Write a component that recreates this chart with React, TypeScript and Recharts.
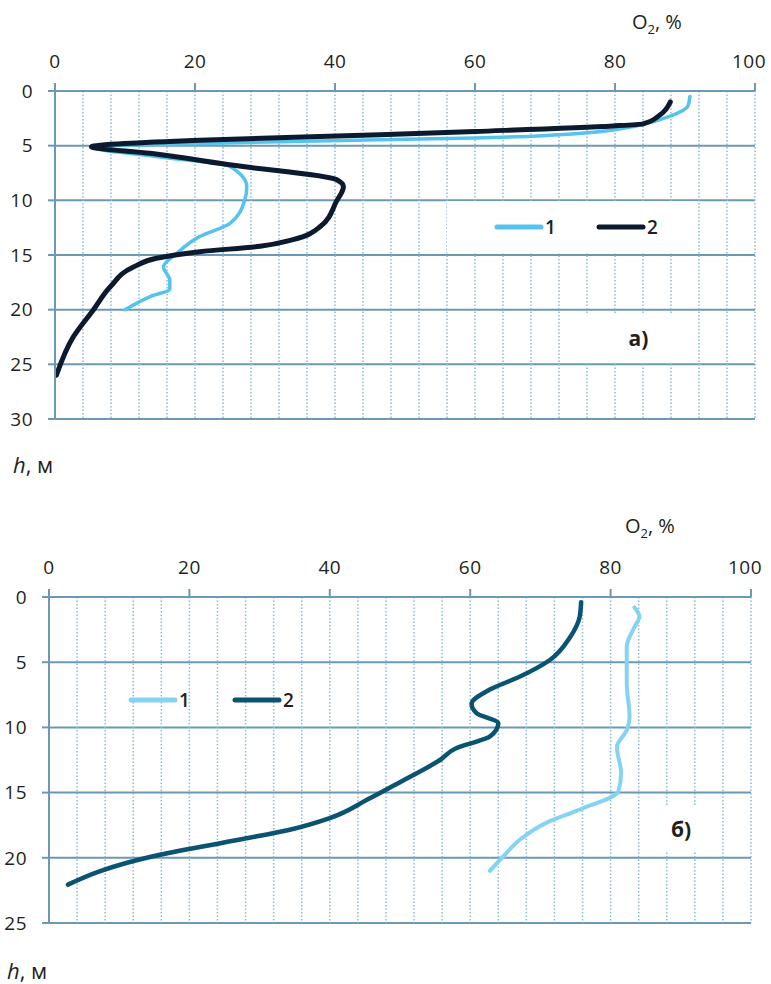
import React from "react";
import {
  LineChart,
  Line,
  XAxis,
  YAxis,
  CartesianGrid,
  ReferenceLine,
} from "recharts";

// panel а)
const hA1 = [0.5, 1.4, 2.3, 3.2, 3.57, 4.0, 4.3, 4.45, 4.8, 5.1, 6.0, 6.9, 8.75, 10, 12.1, 13.3, 14.85, 16.1, 17.3, 18.1, 18.8, 20];
const o2A1 = [90.7, 90.4, 87.9, 83, 79.7, 72, 60, 46.4, 20.7, 5.2, 14.5, 25, 27.4, 27.1, 25, 20.7, 17.4, 15.5, 16.4, 16.4, 13.6, 10];
const hA2 = [1.0, 2.2, 3.0, 3.2, 3.7, 4.0, 4.5, 5.1, 5.7, 6.8, 8.1, 8.75, 10.1, 12.4, 13.6, 14.2, 14.7, 15.3, 16.1, 17.9, 20, 22.5, 26];
const o2A2 = [87.9, 86.4, 84, 79.7, 60, 46.4, 20.7, 5.2, 13.6, 25.5, 40.2, 41.2, 40.2, 37.9, 34, 29.3, 20.7, 14.5, 11.2, 7.9, 5.5, 2.6, 0.2];

// panel б)
const hB1 = [0.8, 1.5, 2.3, 3.8, 6.6, 9.2, 10.2, 11.5, 13.5, 14.9, 16.3, 17.3, 18.6, 19.9, 21.0];
const o2B1 = [83.4, 84.1, 83.4, 82.3, 82.3, 82.7, 82.3, 80.9, 81.5, 81.1, 75.6, 70.9, 67.1, 64.7, 62.8];
const hB2 = [0.4, 1.5, 3.1, 4.85, 6.1, 7.1, 8.2, 8.9, 9.7, 10.7, 11.0, 11.6, 12.5, 14.2, 15.5, 16.96, 17.85, 18.6, 19.77, 20.4, 21.04, 22.06];
const o2B2 = [75.8, 75.6, 74.2, 71.3, 67.1, 62.8, 60.2, 60.9, 64.0, 62.8, 61.4, 58, 55.7, 50, 45.5, 40, 34.3, 27.2, 15.8, 11, 7.2, 2.7];

const xTicks = [0, 20, 40, 60, 80, 100];
const minorX = [4, 8, 12, 16, 20, 24, 28, 32, 36, 40, 44, 48, 52, 56, 60, 64, 68, 72, 76, 80, 84, 88, 92, 96, 100];
const hTicksA = [0, 5, 10, 15, 20, 25, 30];
const hTicksB = [0, 5, 10, 15, 20, 25];
const seriesNames = ["1", "2"];

const GRID = "#6b98b4";
const DOT = "#8cbad4";
const TEXT = "#231f20";
const FONT = "'Open Sans', sans-serif";

const zip = (h: number[], o2: number[]) => h.map((v, i) => ({ h: v, o2: o2[i] }));

// keeps the "100" label inside the page
function TopTick({ x, y, payload }: any) {
  const shift = payload.value === 100 ? -6 : 0;
  return (
    <text x={x + shift} y={y} textAnchor="middle" fill={TEXT} fontSize={19} fontWeight={500} letterSpacing={0.5}>
      {payload.value}
    </text>
  );
}

function Profile(props: any) {
  const { s1, s2, c1, c2, w1, w2, hTicks, height, margin, yWidth } = props;
  return (
    <LineChart
      width={771}
      height={height}
      layout="vertical"
      margin={margin}
      style={{ fontFamily: FONT }}
    >
      <CartesianGrid vertical={false} stroke={GRID} strokeWidth={2} />
      {minorX.map((v) => (
        <ReferenceLine key={v} x={v} stroke={DOT} strokeWidth={1.5} strokeDasharray="1.5 2" />
      ))}
      <XAxis
        type="number"
        dataKey="o2"
        orientation="top"
        domain={[0, 100]}
        ticks={xTicks}
        height={51}
        tickSize={8}
        tickMargin={15}
        axisLine={{ stroke: GRID, strokeWidth: 2 }}
        tickLine={{ stroke: GRID, strokeWidth: 2 }}
        tick={<TopTick />}
        allowDataOverflow
      />
      <YAxis
        type="number"
        dataKey="h"
        domain={[0, hTicks[hTicks.length - 1]]}
        ticks={hTicks}
        width={yWidth}
        tickSize={7}
        tickMargin={15}
        axisLine={{ stroke: GRID, strokeWidth: 2 }}
        tickLine={{ stroke: GRID, strokeWidth: 2 }}
        tick={{ fill: TEXT, fontSize: 19, fontWeight: 500, letterSpacing: 0.5 }}
        allowDataOverflow
      />
      <Line
        data={s1}
        dataKey="o2"
        name={seriesNames[0]}
        type="monotone"
        stroke={c1}
        strokeWidth={w1}
        strokeLinecap="round"
        dot={false}
        isAnimationActive={false}
      />
      <Line
        data={s2}
        dataKey="o2"
        name={seriesNames[1]}
        type="monotone"
        stroke={c2}
        strokeWidth={w2}
        strokeLinecap="round"
        dot={false}
        isAnimationActive={false}
      />
    </LineChart>
  );
}

function LegendBox({ x, y, w, h, fill, colors, gap }: any) {
  return (
    <div
      style={{
        position: "absolute",
        left: x,
        top: y,
        width: w,
        height: h,
        background: fill ? "#fff" : "transparent",
        display: "flex",
        alignItems: "center",
        fontFamily: FONT,
        fontSize: 19,
        fontWeight: 600,
        color: TEXT,
      }}
    >
      {seriesNames.map((name, i) => (
        <div key={name} style={{ display: "flex", alignItems: "center", marginLeft: i === 0 ? gap[0] : gap[1] }}>
          <svg width={50} height={8}>
            <line x1={3} y1={4} x2={47} y2={4} stroke={colors[i]} strokeWidth={5} strokeLinecap="round" />
          </svg>
          <span style={{ marginLeft: 1 }}>{name}</span>
        </div>
      ))}
    </div>
  );
}

const labelStyle: React.CSSProperties = {
  position: "absolute",
  fontFamily: FONT,
  color: TEXT,
  fontSize: 20,
  lineHeight: "24px",
  whiteSpace: "nowrap",
};

const boxStyle: React.CSSProperties = {
  ...labelStyle,
  background: "#fff",
  fontWeight: 700,
  fontSize: 21,
  display: "flex",
  alignItems: "center",
  justifyContent: "center",
};

const A1 = "#55c3ef";
const A2 = "#0b1a2e";
const B1 = "#86d2f2";
const B2 = "#0a5371";

export default function App() {
  return (
    <div style={{ position: "absolute", left: 0, top: 0, width: 771, height: 984, background: "#fff" }}>
      <div style={{ position: "absolute", left: 0, top: 0 }}>
        <Profile
          s1={zip(hA1, o2A1)}
          s2={zip(hA2, o2A2)}
          c1={A1}
          c2={A2}
          w1={3.5}
          w2={5}
          hTicks={hTicksA}
          height={440}
          margin={{ top: 40, right: 16, bottom: 21, left: 0 }}
          yWidth={55}
        />
      </div>
      <LegendBox x={447} y={201} w={250} h={52} fill colors={[A1, A2]} gap={[47, 40]} />
      <div style={{ ...labelStyle, left: 632, top: 10 }}>
        O<sub style={{ fontSize: 13 }}>2</sub>, %
      </div>
      <div style={{ ...labelStyle, left: 13, top: 452, fontSize: 22 }}>
        <i>h</i>, м
      </div>
      <div style={{ ...boxStyle, left: 582, top: 313, width: 113, height: 49 }}>а)</div>

      <div style={{ position: "absolute", left: 0, top: 490 }}>
        <Profile
          s1={zip(hB1, o2B1)}
          s2={zip(hB2, o2B2)}
          c1={B1}
          c2={B2}
          w1={4}
          w2={4.5}
          hTicks={hTicksB}
          height={450}
          margin={{ top: 56, right: 20, bottom: 17, left: 0 }}
          yWidth={49}
        />
      </div>
      <LegendBox x={128} y={686} w={200} h={28} colors={[B1, B2]} gap={[0, 42]} />
      <div style={{ ...labelStyle, left: 625, top: 514 }}>
        O<sub style={{ fontSize: 13 }}>2</sub>, %
      </div>
      <div style={{ ...labelStyle, left: 7, top: 958, fontSize: 22 }}>
        <i>h</i>, м
      </div>
      <div style={{ ...boxStyle, left: 650, top: 805, width: 62, height: 47 }}>б)</div>
    </div>
  );
}
